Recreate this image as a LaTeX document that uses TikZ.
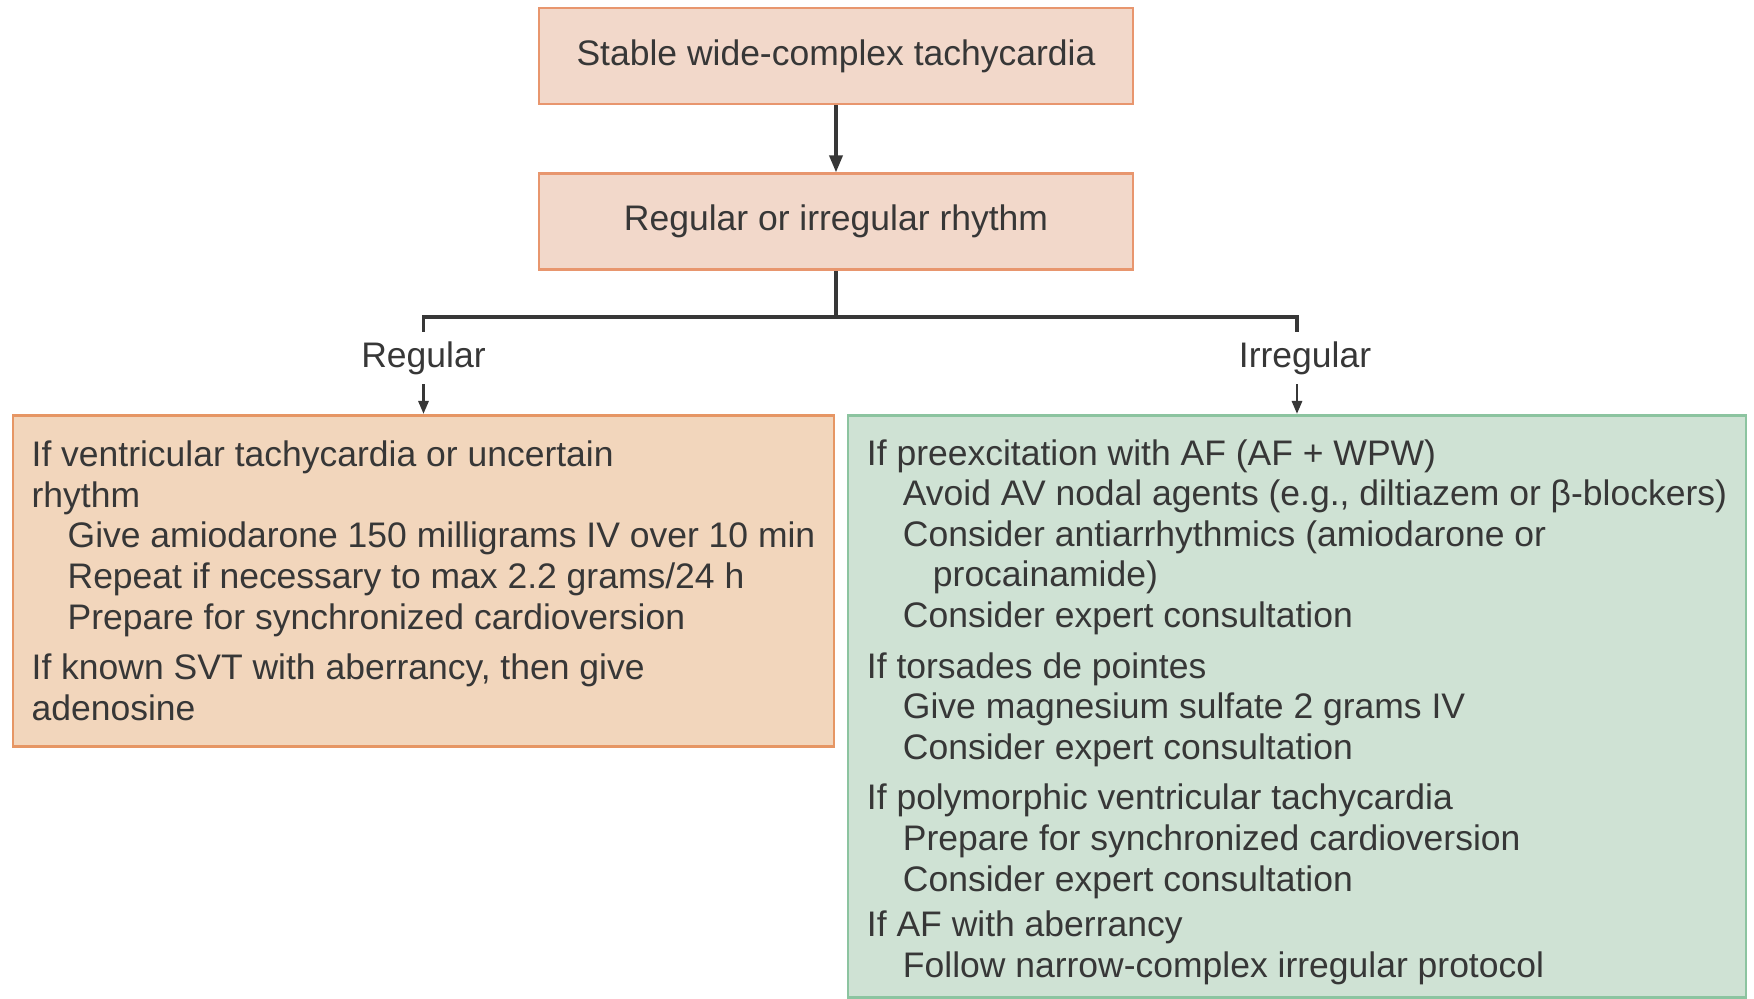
\documentclass[tikz,border=0pt]{standalone}
\usepackage{fontspec}
\setmainfont{Liberation Sans}
\usepackage{xcolor}
\usepackage{tikz}
\usetikzlibrary{arrows.meta,positioning}

\definecolor{headfill}{RGB}{242,216,202}
\definecolor{headline}{RGB}{232,150,110}
\definecolor{regfill}{RGB}{242,214,188}
\definecolor{regline}{RGB}{230,150,100}
\definecolor{irrfill}{RGB}{207,226,212}
\definecolor{irrline}{RGB}{140,196,160}
\definecolor{ink}{RGB}{55,55,55}

\newcommand{\stepin}{\hspace*{0.36cm}}

\begin{document}
\begin{tikzpicture}[
  block/.style={draw,rectangle,line width=0.8pt,font=\fontsize{10.1}{11.55}\selectfont,text=ink},
  header/.style={block,fill=headfill,draw=headline,minimum width=5.94cm,minimum height=0.96cm},
  regbox/.style={block,fill=regfill,draw=regline,align=left,minimum width=8.21cm,minimum height=3.31cm},
  irrbox/.style={block,fill=irrfill,draw=irrline,align=left,minimum width=8.98cm,minimum height=5.82cm},
  branch/.style={font=\fontsize{10.1}{11.55}\selectfont,text=ink,inner sep=2.5pt},
  wire/.style={line width=1pt,draw=ink},
  arr/.style={-{Triangle[length=1.7mm,width=1.3mm]},line width=1pt,draw=ink},
  smallarr/.style={-{Triangle[length=1.3mm,width=1mm]},line width=0.8pt,draw=ink}
]
\useasboundingbox (0,0) rectangle (17.54,9.99);

% Top of the chart
\node[header] (stable) at (8.36,9.43) {Stable wide-complex tachycardia};
\node[header,below=0.67cm of stable] (rhythm) {Regular or irregular rhythm};

% Branch labels
\node[branch] (reglab) at (4.235,6.41) {Regular};
\node[branch] (irrlab) at (13.05,6.41) {Irregular};

% Regular rhythm
\node[regbox,anchor=north] (vt) at (4.235,5.85) {%
If ventricular tachycardia or uncertain\\
rhythm\\
\stepin Give amiodarone 150 milligrams IV over 10 min\\
\stepin Repeat if necessary to max 2.2 grams/24 h\\
\stepin Prepare for synchronized cardioversion\\[0.1cm]
If known SVT with aberrancy, then give\\
adenosine};

% Irregular rhythm
\node[irrbox,anchor=north] (af) at (12.97,5.85) {%
\rule{0pt}{10.5pt}If preexcitation with AF (AF + WPW)\\
\stepin Avoid AV nodal agents (e.g., diltiazem or β-blockers)\\
\stepin Consider antiarrhythmics (amiodarone or\\
\stepin\hspace*{0.3cm}procainamide)\\
\stepin Consider expert consultation\\[0.1cm]
If torsades de pointes\\
\stepin Give magnesium sulfate 2 grams IV\\
\stepin Consider expert consultation\\[0.1cm]
If polymorphic ventricular tachycardia\\
\stepin Prepare for synchronized cardioversion\\
\stepin Consider expert consultation\\[0.05cm]
If AF with aberrancy\\
\stepin Follow narrow-complex irregular protocol};

% Arrows
\coordinate (split) at ([yshift=-0.46cm]rhythm.south);
\draw[arr] (stable) -- (rhythm);
\draw[wire] (rhythm) -- (split);
\draw[wire] (reglab.north) |- (split) -| (irrlab.north -| af.north);
\draw[smallarr] (reglab) -- (vt);
\draw[smallarr] (irrlab.south -| af.north) -- (af);

\end{tikzpicture}
\end{document}
